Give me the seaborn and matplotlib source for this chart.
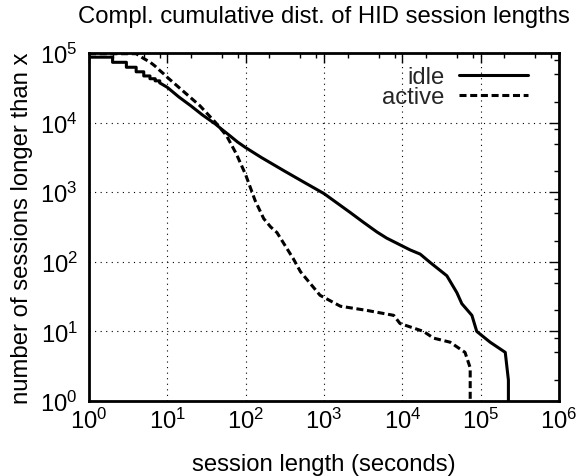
import numpy as np
import pandas as pd
import matplotlib
matplotlib.use("Agg")
import matplotlib.pyplot as plt
from matplotlib.ticker import LogLocator, NullFormatter
import seaborn as sns

# ---- data (CCDF of HID session lengths) ----
idle_x = [1, 2, 2, 3, 3, 4, 4, 5, 5, 6, 6, 7, 7, 8, 8,
          10, 14, 20, 28, 41, 50, 63, 79, 100, 158, 316, 562, 1000,
          2150, 3160, 4720, 6310, 9860, 12600, 16900, 22600,
          37000, 49700, 57500, 77300, 89100, 132000, 206000, 226000, 226000]
idle_y = [87100, 87100, 73500, 73500, 62400, 62400, 53700, 53700, 46800, 46800,
          42700, 42700, 39800, 39800, 37200,
          32100, 23400, 17400, 12900, 9550, 7940, 6460, 5250, 4370, 3160, 2000, 1380, 955,
          513, 372, 269, 219, 170, 148, 129, 98,
          63, 36, 25, 17, 10, 7, 5, 2, 1]

active_x = [1, 4, 5, 6, 7, 8, 9, 10,
            26, 41, 57, 76, 100, 132, 170, 209, 251, 407, 501, 891, 1620,
            3550, 7760, 9330, 18600, 25100, 40700, 63100, 73500, 73500]
active_y = [97700, 97700, 83200, 74100, 64600, 56200, 50100, 44700,
            17500, 10100, 6490, 3550, 1780, 759, 417, 316, 263, 110, 72, 33, 23,
            20, 17, 13, 10, 8, 7, 5, 3, 1]

series_names = ["idle", "active"]

TITLE = "Compl. cumulative dist. of HID session lengths"
XLABEL = "session length (seconds)"
YLABEL = "number of sessions longer than x"

# ---- long table for seaborn ----
df = pd.concat([
    pd.DataFrame({"x": idle_x, "y": idle_y, "kind": "idle"}),
    pd.DataFrame({"x": active_x, "y": active_y, "kind": "active"}),
], ignore_index=True)

FS = 17.2

sns.set_theme(style="white")
plt.rcParams["font.family"] = ["Liberation Sans", "DejaVu Sans"]
plt.rcParams["mathtext.default"] = "regular"
plt.rcParams["font.size"] = FS

fig = plt.figure(figsize=(5.77, 4.77), dpi=100)
ax = fig.add_axes([89 / 577, 1 - 402 / 477, 470 / 577, 348 / 477])

sns.lineplot(data=df, x="x", y="y", hue="kind", style="kind",
             palette={"idle": "black", "active": "black"},
             dashes={"idle": "", "active": (2.3, 1.2)},
             hue_order=series_names, style_order=series_names,
             sort=False, estimator=None, linewidth=2.2, ax=ax)

ax.set_xscale("log")
ax.set_yscale("log")
ax.set_xlim(1, 1e6)
ax.set_ylim(1, 1e5)

for axis in (ax.xaxis, ax.yaxis):
    axis.set_major_locator(LogLocator(base=10, numticks=10))
    axis.set_minor_locator(LogLocator(base=10, subs=[2, 5, 8], numticks=10))
    axis.set_minor_formatter(NullFormatter())

ax.tick_params(which="both", direction="in", top=True, right=True,
               colors="black", labelsize=FS)
ax.tick_params(which="major", length=7, width=1)
ax.tick_params(which="minor", length=3.6, width=1)
ax.tick_params(axis="x", pad=5)
ax.tick_params(axis="y", pad=8)

ax.grid(True, which="major", color="black", linestyle=(0, (1, 4)), linewidth=0.8)
for sp in ax.spines.values():
    sp.set_color("black")
    sp.set_linewidth(2)

ax.set_xlabel(XLABEL, fontsize=FS, color="black", labelpad=14)
ax.set_ylabel(YLABEL, fontsize=FS, color="black", labelpad=5)
ax.set_title(TITLE, fontsize=FS, color="black", pad=22)

handles, labels = ax.get_legend_handles_labels()
ax.legend(handles=handles, labels=labels, loc="upper right",
          bbox_to_anchor=(0.934, 0.962), frameon=False, markerfirst=False,
          fontsize=FS, handlelength=2.9, handletextpad=0.6,
          borderaxespad=0, borderpad=0, labelspacing=-0.08)

fig.savefig("out.png", dpi=100)
